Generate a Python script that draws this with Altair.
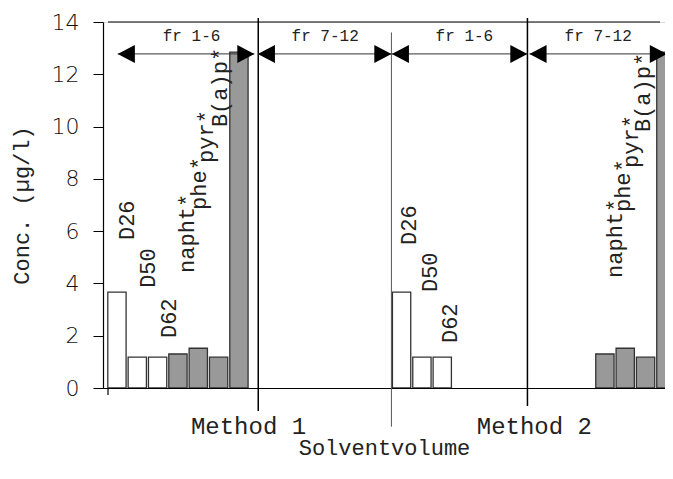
import altair as alt
import pandas as pd

# ---------------- data ----------------
bar_names = ["D26", "D50", "D62", "napht*", "phe*", "pyr*", "B(a)p*",
             "D26", "D50", "D62", "napht*", "phe*", "pyr*", "B(a)p*"]
bar_method = ["Method 1"] * 7 + ["Method 2"] * 7
bar_kind = ["deut"] * 3 + ["pah"] * 4 + ["deut"] * 3 + ["pah"] * 4
bar_slot = [0, 1, 2, 3, 4, 5, 6, 14, 15, 16, 24, 25, 26, 27]
bar_conc = [3.67, 1.18, 1.18, 1.30, 1.52, 1.18, 12.85,
            3.67, 1.18, 1.18, 1.30, 1.52, 1.18, 12.85]

label_x = [0.50, 1.54, 2.56, 3.47, 4.05, 4.39, 5.07,
           14.37, 15.38, 16.37, 24.49, 24.87, 25.26, 25.89]
label_y = [5.66, 3.83, 1.91, 4.40, 6.81, 8.61, 9.98,
           5.47, 3.67, 1.72, 4.21, 6.73, 8.42, 9.79]

frac_labels = ["fr 1-6", "fr 7-12", "fr 1-6", "fr 7-12"]
frac_start = [0.04, 6.93, 13.52, 20.29]
frac_end = [6.76, 13.50, 20.19, 27.05]
frac_label_x = [3.67, 10.24, 17.09, 23.67]
arrow_y = 12.78
frac_label_y = 13.47

div_x = [6.95, 13.50, 20.19]
div_top = [14.15, 13.6, 14.15]
div_bottom = [-0.88, -1.48, -0.69]
div_kind = ["main", "minor", "main"]

method_labels = ["Method 1", "Method 2"]
method_x = [6.47, 20.53]
method_y = [-1.5, -1.5]

x_min, x_max = -0.44, 26.71
y_ticks = [0, 2, 4, 6, 8, 10, 12, 14]

# ---------------- tables ----------------
bars = pd.DataFrame({"name": bar_names, "method": bar_method, "kind": bar_kind,
                     "x": bar_slot, "y": bar_conc})
labels = pd.DataFrame({"name": bar_names, "x": label_x, "y": label_y})
arrows = pd.DataFrame({"x": frac_start, "x2": frac_end,
                       "y": [arrow_y] * 4})
frac_text = pd.DataFrame({"t": frac_labels, "x": frac_label_x,
                          "y": [frac_label_y] * 4})
heads_r = pd.DataFrame({"x": frac_end, "y": [arrow_y] * 4})
heads_l = pd.DataFrame({"x": frac_start, "y": [arrow_y] * 4})
divs = pd.DataFrame({"x": div_x, "y": div_bottom, "y2": div_top, "k": div_kind})
meth = pd.DataFrame({"t": method_labels, "x": method_x, "y": method_y})
frame_top = pd.DataFrame({"x": [x_min], "x2": [x_max], "y": [14]})
yext = pd.DataFrame({"x": [x_min], "y": [0], "y2": [-0.27]})

xs = alt.Scale(domain=[x_min, x_max], nice=False, zero=False)
ys = alt.Scale(domain=[0, 14], nice=False, zero=False)

X_AXIS = alt.Axis(labels=False, ticks=False, grid=False, domainColor="#000",
                  domainWidth=1.2, title="Solventvolume",
                  titleFont="Liberation Mono", titleFontSize=22,
                  titleFontWeight="normal", titleColor="#222", titlePadding=49)
Y_AXIS = alt.Axis(values=y_ticks, grid=False, tickSize=10, tickColor="#000",
                  domainColor="#000", domainWidth=1.2, tickWidth=1,
                  labelFont="DejaVu Sans", labelFontSize=22, labelFontWeight=200,
                  labelColor="#111", labelPadding=14,
                  title="Conc. (µg/l)", titleFont="Liberation Mono",
                  titleFontSize=22, titleFontWeight="normal", titleColor="#222",
                  titlePadding=18)


def X(field="x"):
    return alt.X(f"{field}:Q", scale=xs, axis=X_AXIS)


def Y(field="y"):
    return alt.Y(f"{field}:Q", scale=ys, axis=Y_AXIS)


bar_layer = alt.Chart(bars).mark_bar(width=18.3, stroke="#333", strokeWidth=1.3,
                                     clip=True).encode(
    x=X(), y=Y(),
    color=alt.Color("kind:N", scale=alt.Scale(domain=["deut", "pah"],
                                              range=["#ffffff", "#999999"]),
                    legend=None))

label_layer = alt.Chart(labels).mark_text(angle=270, align="left", baseline="middle",
                                          font="Liberation Mono", fontSize=22,
                                          color="#222").encode(
    x=X(), y=Y(), text="name:N")

div_layer = alt.Chart(divs).mark_rule().encode(
    x=X(), y=Y(), y2="y2:Q",
    color=alt.Color("k:N", scale=alt.Scale(domain=["main", "minor"],
                                           range=["#000000", "#555555"]), legend=None),
    strokeWidth=alt.StrokeWidth("k:N", scale=alt.Scale(domain=["main", "minor"],
                                                        range=[1.5, 1]), legend=None))

arrow_layer = alt.Chart(arrows).mark_rule(color="#333", strokeWidth=1).encode(
    x=X(), x2="x2:Q", y=Y())

head_r_layer = alt.Chart(heads_r).mark_point(
    shape="M 0 0 L -1.9 -1 L -1.9 1 Z", size=324, filled=True, color="#000",
    opacity=1, strokeWidth=0).encode(x=X(), y=Y())
head_l_layer = alt.Chart(heads_l).mark_point(
    shape="M 0 0 L 1.9 -1 L 1.9 1 Z", size=324, filled=True, color="#000",
    opacity=1, strokeWidth=0).encode(x=X(), y=Y())

frac_layer = alt.Chart(frac_text).mark_text(font="Liberation Mono", fontSize=16,
                                            color="#222", baseline="middle").encode(
    x=X(), y=Y(), text="t:N")

meth_layer = alt.Chart(meth).mark_text(font="Liberation Mono", fontSize=24,
                                       color="#222", baseline="middle").encode(
    x=X(), y=Y(), text="t:N")

top_layer = alt.Chart(frame_top).mark_rule(color="#000", strokeWidth=1.2).encode(
    x=X(), x2="x2:Q", y=Y())
yext_layer = alt.Chart(yext).mark_rule(color="#000", strokeWidth=1.2).encode(
    x=X(), y=Y(), y2="y2:Q")

chart = alt.layer(
    bar_layer, div_layer, top_layer, yext_layer, arrow_layer, head_r_layer,
    head_l_layer, frac_layer, label_layer, meth_layer
).resolve_scale(color="independent", strokeWidth="independent").properties(
    width=562, height=366,
    autosize=alt.AutoSizeParams(type="none"),
    padding={"left": 95, "top": 14, "right": 0, "bottom": 75},
).configure_view(stroke=None).configure(background="white")

chart.save("out.html", embed_options={"renderer": "svg", "actions": False})
